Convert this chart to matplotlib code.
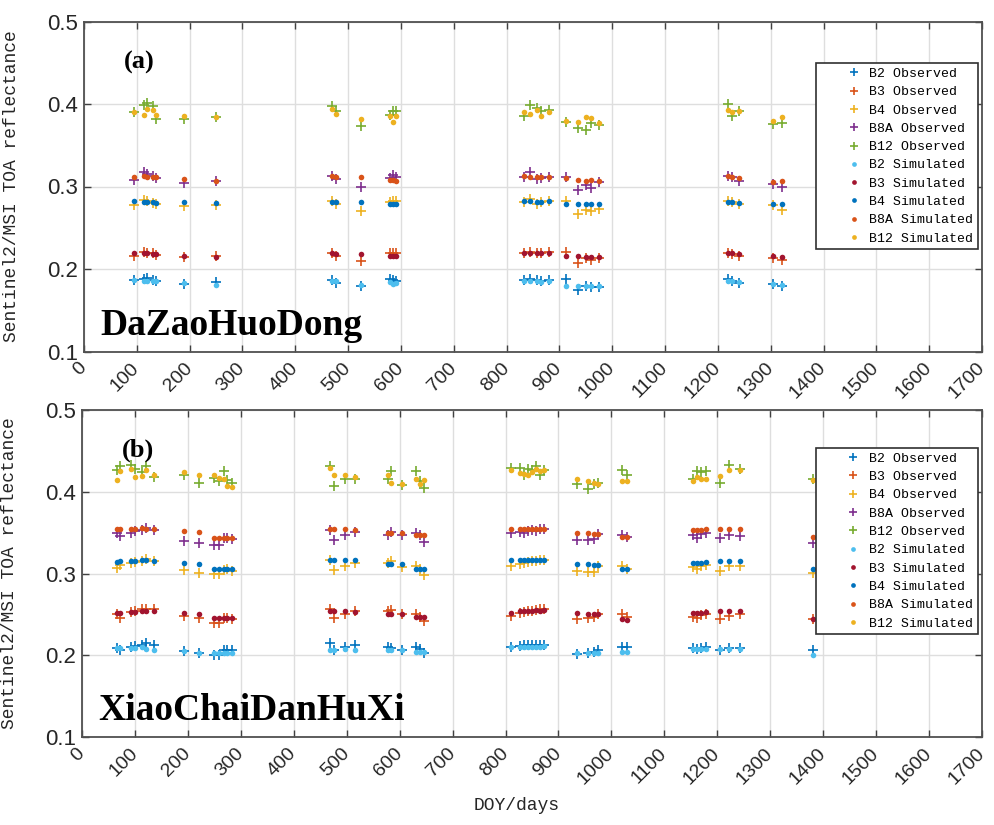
import numpy as np
import matplotlib
matplotlib.use('Agg')
import matplotlib.pyplot as plt

''' Data (read off the figure) '''
band_names = ['B2', 'B3', 'B4', 'B8A', 'B12']

# (a) DaZaoHuoDong
doy_a = [95, 113, 120, 130, 137, 190, 250, 469, 477, 525, 579, 585, 590,
         833, 845, 857, 866, 880, 913, 935, 951, 960, 975, 1219, 1226, 1240, 1305, 1321]
b2_obs_a = [0.187, 0.188, 0.189, 0.187, 0.186, 0.182, 0.184, 0.187, 0.183, 0.179, 0.188, 0.187, 0.186,
            0.187, 0.188, 0.187, 0.186, 0.187, 0.188, 0.174, 0.180, 0.178, 0.178, 0.188, 0.185, 0.183, 0.182, 0.180]
b3_obs_a = [0.216, 0.221, 0.220, 0.219, 0.217, 0.214, 0.216, 0.219, 0.216, 0.210, 0.219, 0.220, 0.219,
            0.220, 0.221, 0.219, 0.220, 0.221, 0.221, 0.207, 0.213, 0.211, 0.213, 0.219, 0.218, 0.216, 0.213, 0.211]
b4_obs_a = [0.278, 0.284, 0.282, 0.280, 0.279, 0.276, 0.277, 0.282, 0.279, 0.270, 0.281, 0.283, 0.282,
            0.281, 0.285, 0.279, 0.281, 0.283, 0.283, 0.267, 0.272, 0.270, 0.273, 0.282, 0.281, 0.279, 0.278, 0.272]
b8a_obs_a = [0.308, 0.317, 0.315, 0.313, 0.310, 0.304, 0.307, 0.313, 0.309, 0.300, 0.310, 0.314, 0.312,
             0.311, 0.317, 0.309, 0.310, 0.312, 0.311, 0.296, 0.302, 0.298, 0.305, 0.313, 0.311, 0.307, 0.303, 0.300]
b12_obs_a = [0.390, 0.399, 0.401, 0.397, 0.382, 0.382, 0.384, 0.398, 0.391, 0.373, 0.387, 0.391, 0.392,
             0.386, 0.399, 0.395, 0.392, 0.393, 0.378, 0.371, 0.368, 0.377, 0.375, 0.400, 0.386, 0.391, 0.376, 0.377]
b2_sim_a = [0.187, 0.185, 0.186, 0.185, 0.185, 0.183, 0.181, 0.186, 0.185, 0.181, 0.184, 0.182, 0.183,
            0.185, 0.185, 0.185, 0.184, 0.185, 0.179, 0.179, 0.179, 0.179, 0.179, 0.186, 0.185, 0.184, 0.182, 0.181]
b3_sim_a = [0.219, 0.219, 0.219, 0.218, 0.218, 0.216, 0.215, 0.219, 0.218, 0.218, 0.216, 0.216, 0.216,
            0.220, 0.220, 0.219, 0.219, 0.220, 0.216, 0.216, 0.215, 0.215, 0.215, 0.219, 0.219, 0.218, 0.216, 0.214]
b4_sim_a = [0.282, 0.281, 0.281, 0.281, 0.280, 0.281, 0.280, 0.281, 0.281, 0.281, 0.279, 0.279, 0.279,
            0.282, 0.282, 0.281, 0.281, 0.282, 0.279, 0.279, 0.279, 0.279, 0.279, 0.281, 0.281, 0.280, 0.279, 0.279]
b8a_sim_a = [0.312, 0.313, 0.312, 0.312, 0.311, 0.309, 0.307, 0.313, 0.311, 0.311, 0.308, 0.308, 0.307,
             0.313, 0.312, 0.311, 0.312, 0.312, 0.310, 0.308, 0.307, 0.308, 0.307, 0.313, 0.311, 0.310, 0.306, 0.307]
b12_sim_a = [0.390, 0.387, 0.394, 0.393, 0.387, 0.386, 0.384, 0.394, 0.388, 0.382, 0.385, 0.378, 0.385,
             0.390, 0.388, 0.393, 0.385, 0.390, 0.380, 0.378, 0.384, 0.383, 0.377, 0.393, 0.390, 0.391, 0.379, 0.384]

# (b) XiaoChaiDanHuXi
doy_b = [66, 72, 93, 100, 113, 121, 136, 192, 221, 250, 258, 268, 274, 283,
         469, 476, 497, 516, 578, 584, 604, 630, 639, 646,
         811, 827, 835, 842, 850, 858, 866, 873, 935, 956, 967, 975, 1020, 1030,
         1155, 1162, 1170, 1178, 1206, 1222, 1242, 1381]
b2_obs_b = [0.209, 0.207, 0.210, 0.211, 0.213, 0.215, 0.213, 0.205, 0.203, 0.200, 0.200, 0.207, 0.207, 0.207,
            0.215, 0.207, 0.210, 0.213, 0.210, 0.209, 0.207, 0.210, 0.208, 0.203,
            0.210, 0.211, 0.212, 0.212, 0.213, 0.212, 0.213, 0.213, 0.202, 0.203, 0.204, 0.207, 0.210, 0.210,
            0.209, 0.208, 0.209, 0.210, 0.207, 0.209, 0.209, 0.207]
b3_obs_b = [0.250, 0.245, 0.253, 0.254, 0.256, 0.257, 0.256, 0.248, 0.245, 0.239, 0.239, 0.245, 0.246, 0.244,
            0.256, 0.245, 0.250, 0.254, 0.254, 0.255, 0.250, 0.250, 0.247, 0.242,
            0.248, 0.252, 0.253, 0.254, 0.254, 0.255, 0.256, 0.256, 0.244, 0.245, 0.247, 0.250, 0.250, 0.247,
            0.247, 0.245, 0.249, 0.251, 0.244, 0.248, 0.250, 0.244]
b4_obs_b = [0.307, 0.311, 0.313, 0.314, 0.315, 0.318, 0.315, 0.304, 0.301, 0.299, 0.299, 0.304, 0.305, 0.303,
            0.316, 0.304, 0.309, 0.313, 0.313, 0.315, 0.308, 0.309, 0.305, 0.298,
            0.309, 0.312, 0.313, 0.314, 0.315, 0.315, 0.316, 0.317, 0.303, 0.302, 0.302, 0.309, 0.309, 0.305,
            0.308, 0.306, 0.309, 0.310, 0.303, 0.309, 0.309, 0.301]
b8a_obs_b = [0.349, 0.346, 0.350, 0.352, 0.353, 0.356, 0.353, 0.340, 0.337, 0.335, 0.335, 0.343, 0.343, 0.342,
             0.353, 0.341, 0.347, 0.351, 0.347, 0.351, 0.347, 0.349, 0.347, 0.339,
             0.350, 0.351, 0.349, 0.352, 0.353, 0.352, 0.354, 0.355, 0.341, 0.341, 0.342, 0.348, 0.347, 0.345,
             0.347, 0.344, 0.348, 0.350, 0.343, 0.347, 0.346, 0.337]
b12_obs_b = [0.427, 0.432, 0.433, 0.428, 0.424, 0.432, 0.418, 0.420, 0.411, 0.417, 0.413, 0.425, 0.414, 0.411,
             0.432, 0.407, 0.415, 0.416, 0.416, 0.425, 0.408, 0.425, 0.413, 0.405,
             0.429, 0.429, 0.420, 0.428, 0.426, 0.432, 0.421, 0.427, 0.409, 0.403, 0.409, 0.411, 0.426, 0.421,
             0.416, 0.425, 0.424, 0.425, 0.411, 0.433, 0.428, 0.415]
b2_sim_b = [0.209, 0.209, 0.209, 0.209, 0.210, 0.208, 0.207, 0.205, 0.203, 0.203, 0.203, 0.203, 0.203, 0.203,
            0.207, 0.207, 0.208, 0.206, 0.206, 0.206, 0.206, 0.204, 0.204, 0.204,
            0.210, 0.210, 0.210, 0.210, 0.210, 0.210, 0.210, 0.211, 0.203, 0.203, 0.203, 0.203, 0.204, 0.204,
            0.208, 0.208, 0.208, 0.208, 0.208, 0.208, 0.208, 0.200]
b3_sim_b = [0.252, 0.252, 0.253, 0.253, 0.254, 0.254, 0.254, 0.252, 0.250, 0.246, 0.246, 0.246, 0.246, 0.246,
            0.254, 0.254, 0.254, 0.253, 0.250, 0.250, 0.250, 0.247, 0.247, 0.247,
            0.252, 0.254, 0.254, 0.254, 0.254, 0.255, 0.254, 0.255, 0.252, 0.251, 0.250, 0.250, 0.244, 0.243,
            0.252, 0.252, 0.252, 0.253, 0.254, 0.254, 0.254, 0.244]
b4_sim_b = [0.314, 0.315, 0.315, 0.315, 0.316, 0.316, 0.315, 0.313, 0.312, 0.306, 0.306, 0.306, 0.306, 0.306,
            0.316, 0.316, 0.316, 0.316, 0.312, 0.312, 0.312, 0.306, 0.306, 0.306,
            0.316, 0.316, 0.316, 0.317, 0.316, 0.317, 0.317, 0.317, 0.312, 0.312, 0.311, 0.310, 0.306, 0.306,
            0.313, 0.313, 0.313, 0.314, 0.315, 0.315, 0.315, 0.306]
b8a_sim_b = [0.354, 0.355, 0.355, 0.355, 0.356, 0.355, 0.354, 0.352, 0.351, 0.344, 0.344, 0.344, 0.344, 0.344,
             0.355, 0.354, 0.354, 0.353, 0.349, 0.349, 0.349, 0.347, 0.347, 0.347,
             0.354, 0.354, 0.354, 0.355, 0.354, 0.355, 0.354, 0.355, 0.349, 0.349, 0.348, 0.348, 0.345, 0.345,
             0.353, 0.353, 0.353, 0.354, 0.354, 0.354, 0.354, 0.345]
b12_sim_b = [0.414, 0.425, 0.428, 0.418, 0.419, 0.426, 0.420, 0.424, 0.421, 0.420, 0.417, 0.416, 0.407, 0.406,
             0.429, 0.420, 0.420, 0.418, 0.420, 0.411, 0.409, 0.416, 0.409, 0.414,
             0.426, 0.423, 0.422, 0.421, 0.424, 0.428, 0.425, 0.426, 0.415, 0.413, 0.411, 0.410, 0.413, 0.413,
             0.413, 0.418, 0.416, 0.415, 0.419, 0.427, 0.427, 0.414]

''' Plot '''
# MATLAB default colour order, cycled over the 10 series
matlab_colors = ['#0072BD', '#D95319', '#EDB120', '#7E2F8E', '#77AC30', '#4DBEEE', '#A2142F']
obs_colors = matlab_colors[0:5]
sim_colors = [matlab_colors[5], matlab_colors[6], matlab_colors[0], matlab_colors[1], matlab_colors[2]]

TICK_FONT = ['Liberation Sans', 'DejaVu Sans']
MONO_FONT = ['Liberation Mono', 'DejaVu Sans Mono']

fig = plt.figure(figsize=(9.94, 8.25), dpi=100)
ax1 = fig.add_axes([84 / 994, 1 - 351.5 / 825, 898 / 994, 330 / 825])
ax2 = fig.add_axes([82 / 994, 1 - 737 / 825, 900 / 994, 327 / 825])

panels = [
    (ax1, doy_a, [b2_obs_a, b3_obs_a, b4_obs_a, b8a_obs_a, b12_obs_a],
     [b2_sim_a, b3_sim_a, b4_sim_a, b8a_sim_a, b12_sim_a], '(a)', 'DaZaoHuoDong', 0.874),
    (ax2, doy_b, [b2_obs_b, b3_obs_b, b4_obs_b, b8a_obs_b, b12_obs_b],
     [b2_sim_b, b3_sim_b, b4_sim_b, b8a_sim_b, b12_sim_b], '(b)', 'XiaoChaiDanHuXi', 0.884),
]

for ax, doy, obs, sim, tag, site, leg_y in panels:
    ax.grid(True, color='#dedede', linewidth=1.0)
    ax.set_axisbelow(True)

    for i in range(5):
        ax.plot(doy, obs[i], linestyle='none', marker='+', markersize=7, markeredgewidth=1.2,
                color=obs_colors[i], label=band_names[i] + ' Observed')
    for i in range(5):
        ax.plot(doy, sim[i], linestyle='none', marker='o', markersize=4, markeredgewidth=0,
                color=sim_colors[i], label=band_names[i] + ' Simulated')

    ax.set_xlim(0, 1700)
    ax.set_ylim(0.1, 0.5)
    ax.set_xticks(np.arange(0, 1701, 100))
    ax.set_yticks([0.1, 0.2, 0.3, 0.4, 0.5])
    ax.set_yticklabels(['0.1', '0.2', '0.3', '0.4', '0.5'], fontsize=16, family=TICK_FONT)
    ax.set_xticklabels([str(v) for v in range(0, 1701, 100)], fontsize=14, family=TICK_FONT,
                       rotation=45, ha='right', va='center', rotation_mode='anchor')
    ax.tick_params(direction='in', length=5, width=1, color='#404040', top=True, right=True,
                   labelcolor='#262626', pad=4)
    ax.tick_params(axis='x', pad=10)
    for s in ax.spines.values():
        s.set_color('#505050')
        s.set_linewidth(1.3)

    ax.set_ylabel('Sentinel2/MSI TOA reflectance', fontsize=13, family=MONO_FONT, color='#262626')
    ax.yaxis.set_label_coords(-0.071, 0.5)

    ax.text(0.062, 0.877, tag, transform=ax.transAxes, fontsize=19, fontweight='bold',
            family='Liberation Serif', ha='center', va='center')
    ax.text(0.018, 0.08, site, transform=ax.transAxes, fontsize=27, fontweight='bold',
            family='Liberation Serif', ha='left', va='center')

    leg = ax.legend(loc='upper right', bbox_to_anchor=(0.9955, leg_y), borderaxespad=0,
                    prop={'family': MONO_FONT, 'size': 9.5}, numpoints=1, handlelength=5.0,
                    handletextpad=-1.3, borderpad=0.35, labelspacing=0.46, markerscale=0.85,
                    fancybox=False, framealpha=1, edgecolor='#303030')
    leg.get_frame().set_linewidth(1.2)

fig.text(517 / 994, 1 - 805 / 825, 'DOY/days', fontsize=13, family=MONO_FONT,
         ha='center', va='center', color='#262626')

fig.savefig('out.png', dpi=100)
